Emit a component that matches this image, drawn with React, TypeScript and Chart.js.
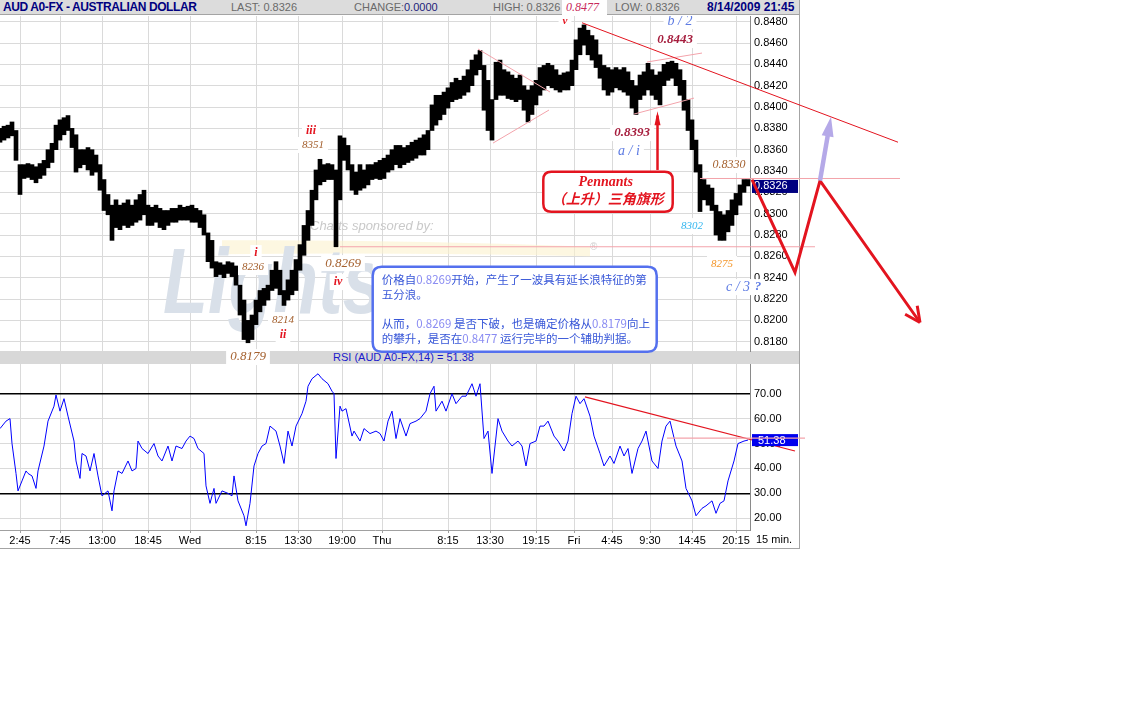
import React, { useEffect, useRef } from "react";
import { Chart, registerables } from "chart.js";

Chart.register(...registerables);

// x unit: 15-minute bar index (0 = Tue 00:15). Price samples every 2 bars (30 min).
const xTickBars = [10, 30, 51, 74, 95, 128, 149, 171, 191, 224, 245, 268, 287, 306, 325, 346, 368];
const xTickLabels = ["2:45", "7:45", "13:00", "18:45", "Wed", "8:15", "13:30", "19:00", "Thu", "8:15", "13:30", "19:15", "Fri", "4:45", "9:30", "14:45", "20:15"];

const priceTicks = [0.818, 0.82, 0.822, 0.824, 0.826, 0.828, 0.83, 0.832, 0.834, 0.836, 0.838, 0.84, 0.842, 0.844, 0.846, 0.848];

const priceHigh = [
  0.8380, 0.8382, 0.8383, 0.8386, 0.8378, 0.8346, 0.8346, 0.8347, 0.8346, 0.8344,
  0.8347, 0.8350, 0.8360, 0.8366, 0.8383, 0.8388, 0.8390, 0.8392, 0.8380, 0.8374,
  0.8360, 0.8360, 0.8362, 0.8360, 0.8355, 0.8346, 0.8332, 0.8318, 0.8308, 0.8313,
  0.8308, 0.8310, 0.8313, 0.8308, 0.8313, 0.8318, 0.8322, 0.8308, 0.8306, 0.8308,
  0.8305, 0.8303, 0.8303, 0.8305, 0.8305, 0.8308, 0.8306, 0.8307, 0.8308, 0.8305,
  0.8303, 0.8299, 0.8282, 0.8275, 0.8255, 0.8254, 0.8252, 0.8255, 0.8254, 0.8251,
  0.8233, 0.8219, 0.8200, 0.8205, 0.8219, 0.8228, 0.8230, 0.8233, 0.8247, 0.8255,
  0.8247, 0.8228, 0.8238, 0.8247, 0.8257, 0.8271, 0.8289, 0.8303, 0.8322, 0.8341,
  0.8351, 0.8346, 0.8347, 0.8346, 0.8341, 0.8373, 0.8371, 0.8364, 0.8346, 0.8339,
  0.8346, 0.8341, 0.8346, 0.8346, 0.8348, 0.8350, 0.8352, 0.8355, 0.8360, 0.8364,
  0.8364, 0.8362, 0.8364, 0.8367, 0.8369, 0.8371, 0.8374, 0.8378, 0.8402, 0.8411,
  0.8411, 0.8414, 0.8418, 0.8423, 0.8427, 0.8425, 0.8429, 0.8435, 0.8444, 0.8449,
  0.8453, 0.8439, 0.8425, 0.8407, 0.8442, 0.8444, 0.8435, 0.8433, 0.8430, 0.8427,
  0.8430, 0.8420, 0.8416, 0.8420, 0.8425, 0.8437, 0.8439, 0.8441, 0.8439, 0.8435,
  0.8430, 0.8432, 0.8433, 0.8444, 0.8463, 0.8474, 0.8477, 0.8472, 0.8467, 0.8463,
  0.8449, 0.8439, 0.8437, 0.8435, 0.8437, 0.8435, 0.8437, 0.8433, 0.8425, 0.8420,
  0.8430, 0.8433, 0.8441, 0.8435, 0.8430, 0.8433, 0.8440, 0.8442, 0.8443, 0.8441,
  0.8435, 0.8425, 0.8407, 0.8388, 0.8369, 0.8346, 0.8332, 0.8327, 0.8324, 0.8308,
  0.8302, 0.8299, 0.8303, 0.8313, 0.8319, 0.8327, 0.8332, 0.8332,
];

const priceLow = [
  0.8367, 0.8369, 0.8371, 0.8373, 0.8350, 0.8318, 0.8333, 0.8334, 0.8332, 0.8329,
  0.8333, 0.8336, 0.8343, 0.8348, 0.8360, 0.8369, 0.8374, 0.8378, 0.8362, 0.8339,
  0.8343, 0.8346, 0.8341, 0.8336, 0.8339, 0.8322, 0.8303, 0.8299, 0.8275, 0.8287,
  0.8285, 0.8289, 0.8287, 0.8289, 0.8292, 0.8294, 0.8299, 0.8289, 0.8289, 0.8292,
  0.8287, 0.8285, 0.8289, 0.8292, 0.8292, 0.8294, 0.8294, 0.8294, 0.8292, 0.8292,
  0.8287, 0.8280, 0.8255, 0.8249, 0.8241, 0.8243, 0.8240, 0.8244, 0.8241, 0.8233,
  0.8205, 0.8182, 0.8179, 0.8182, 0.8196, 0.8208, 0.8214, 0.8219, 0.8228, 0.8230,
  0.8224, 0.8214, 0.8219, 0.8224, 0.8228, 0.8247, 0.8261, 0.8275, 0.8289, 0.8313,
  0.8327, 0.8330, 0.8332, 0.8332, 0.8269, 0.8313, 0.8350, 0.8341, 0.8322, 0.8318,
  0.8322, 0.8324, 0.8327, 0.8332, 0.8333, 0.8332, 0.8333, 0.8339, 0.8341, 0.8346,
  0.8343, 0.8346, 0.8348, 0.8350, 0.8352, 0.8355, 0.8355, 0.8360, 0.8378, 0.8383,
  0.8388, 0.8393, 0.8399, 0.8405, 0.8407, 0.8408, 0.8411, 0.8414, 0.8420, 0.8430,
  0.8435, 0.8397, 0.8378, 0.8369, 0.8407, 0.8411, 0.8411, 0.8408, 0.8407, 0.8405,
  0.8407, 0.8397, 0.8386, 0.8393, 0.8402, 0.8411, 0.8416, 0.8420, 0.8418, 0.8416,
  0.8414, 0.8416, 0.8416, 0.8420, 0.8435, 0.8449, 0.8458, 0.8449, 0.8444, 0.8437,
  0.8427, 0.8416, 0.8411, 0.8414, 0.8418, 0.8416, 0.8414, 0.8411, 0.8399, 0.8393,
  0.8407, 0.8411, 0.8416, 0.8411, 0.8407, 0.8402, 0.8420, 0.8425, 0.8427, 0.8420,
  0.8411, 0.8397, 0.8378, 0.8360, 0.8339, 0.8302, 0.8313, 0.8308, 0.8303, 0.8280,
  0.8275, 0.8275, 0.8283, 0.8289, 0.8299, 0.8308, 0.8320, 0.8326,
];

const lastPrice = 0.8326;

const rsiTicks = [20, 30, 40, 50, 60, 70];
const rsiBars = [
  0, 3, 5, 6, 8, 9, 11, 13, 14, 16,
  18, 19, 22, 24, 27, 28, 30, 32, 34, 37,
  38, 40, 41, 43, 45, 47, 49, 51, 54, 56,
  57, 59, 61, 64, 66, 68, 69, 71, 74, 77,
  79, 81, 84, 86, 88, 91, 93, 95, 97, 99,
  102, 103, 105, 107, 108, 111, 114, 116, 117, 119,
  122, 123, 125, 127, 129, 131, 133, 135, 138, 140,
  142, 144, 146, 148, 151, 153, 154, 156, 159, 161,
  164, 166, 167, 168, 170, 171, 173, 176, 177, 180,
  182, 185, 188, 190, 192, 194, 196, 198, 200, 203,
  205, 208, 210, 213, 215, 217, 218, 221, 223, 226,
  228, 231, 233, 236, 238, 240, 242, 244, 246, 249,
  251, 254, 256, 259, 261, 263, 265, 268, 270, 272,
  274, 277, 279, 282, 284, 286, 288, 290, 292, 295,
  297, 300, 302, 305, 307, 310, 312, 314, 316, 319,
  321, 323, 326, 329, 331, 333, 335, 338, 341, 343,
  346, 348, 351, 353, 356, 358, 360, 362, 364, 367,
  369, 372, 374,
];
const rsiValues = [
  56, 59, 60, 50, 38, 31, 35, 39, 38, 37,
  32, 39, 49, 59, 65, 69.5, 63, 68, 61, 51,
  43, 36, 46, 45, 39, 46, 37, 29, 31, 23,
  31, 39, 38, 43, 39, 40, 51, 48, 46, 50,
  45, 43, 49, 43, 49, 48, 51, 53, 52, 48,
  46, 33, 26, 32, 26, 31, 30, 29, 37, 27,
  21, 17, 26, 41, 46, 49, 50, 57, 55, 49,
  42, 55, 49, 57, 62, 67, 73, 76, 78, 76,
  74, 71, 70, 44, 65, 63, 64, 53, 55, 51,
  56, 54, 55, 54, 51, 59, 63, 52, 60, 53,
  58, 59, 60, 63, 70, 73, 63, 67, 63, 70,
  66, 69, 69, 74, 69, 74, 52, 55, 38, 60,
  55, 51, 49, 51, 49, 41, 50, 51, 57, 57,
  59, 53, 51, 47, 51, 62, 69, 66, 68, 61,
  53, 46, 41, 45, 42, 49, 45, 48, 38, 48,
  51, 55, 43, 40, 51, 57, 59, 49, 43, 32,
  27, 21, 24, 25, 27, 22, 26, 27, 35, 43,
  50, 51, 51.4,
];
const lastRsi = 51.38;

const SANS = "'Liberation Sans', Arial, sans-serif";
const SERIF = "'Liberation Serif', 'Times New Roman', serif";
const CJK = "'Noto Sans CJK SC', 'Noto Sans', sans-serif";

const GRID = "#dadada";

function rightAxisFit(scale: any) {
  scale.width = 50;
  scale.paddingTop = 0;
  scale.paddingBottom = 0;
}

function arrowHeadFilled(ctx: any, x1: number, y1: number, x2: number, y2: number, len: number, half: number, color: string) {
  const a = Math.atan2(y2 - y1, x2 - x1);
  const bx = x2 - len * Math.cos(a);
  const by = y2 - len * Math.sin(a);
  ctx.beginPath();
  ctx.moveTo(x2, y2);
  ctx.lineTo(bx + half * Math.sin(a), by - half * Math.cos(a));
  ctx.lineTo(bx - half * Math.sin(a), by + half * Math.cos(a));
  ctx.closePath();
  ctx.fillStyle = color;
  ctx.fill();
}

function roundRect(ctx: any, x: number, y: number, w: number, h: number, r: number) {
  ctx.beginPath();
  ctx.moveTo(x + r, y);
  ctx.lineTo(x + w - r, y);
  ctx.quadraticCurveTo(x + w, y, x + w, y + r);
  ctx.lineTo(x + w, y + h - r);
  ctx.quadraticCurveTo(x + w, y + h, x + w - r, y + h);
  ctx.lineTo(x + r, y + h);
  ctx.quadraticCurveTo(x, y + h, x, y + h - r);
  ctx.lineTo(x, y + r);
  ctx.quadraticCurveTo(x, y, x + r, y);
  ctx.closePath();
}

const RED = "#e3141f";
const PINK = "#f3a3ab";
const BROWN = "#a4602e";
const BLUE_L = "#5d7be3";
const DARKRED = "#a61e3e";

const waveLabels = [
  { t: "v", b: 282.5, p: 0.84806, c: RED, f: `italic bold 11px ${SERIF}` },
  { t: "b / 2", b: 340, p: 0.84806, c: BLUE_L, f: `italic 14px ${SERIF}` },
  { t: "0.8443", b: 337.5, p: 0.84628, c: DARKRED, f: `italic bold 13px ${SERIF}` },
  { t: "0.8393", b: 316, p: 0.83756, c: DARKRED, f: `italic bold 13px ${SERIF}` },
  { t: "a / i", b: 314.5, p: 0.83587, c: BLUE_L, f: `italic 14px ${SERIF}` },
  { t: "0.8330", b: 364.5, p: 0.83456, c: BROWN, f: `italic 12px ${SERIF}` },
  { t: "8302", b: 346, p: 0.82884, c: "#33b6ef", f: `italic 11px ${SERIF}` },
  { t: "8275", b: 361, p: 0.82528, c: "#f4962a", f: `italic 11px ${SERIF}` },
  { t: "c / 3", b: 369, p: 0.82312, c: BLUE_L, f: `italic 14px ${SERIF}` },
  { t: "?", b: 379, p: 0.82312, c: BLUE_L, f: `italic bold 13px ${SERIF}` },
  { t: "i", b: 128, p: 0.82631, c: RED, f: `italic bold 12px ${SERIF}` },
  { t: "8236", b: 126.5, p: 0.825, c: BROWN, f: `italic 11px ${SERIF}` },
  { t: "8214", b: 141.5, p: 0.82003, c: BROWN, f: `italic 11px ${SERIF}` },
  { t: "ii", b: 141.5, p: 0.81862, c: RED, f: `italic bold 12px ${SERIF}` },
  { t: "iii", b: 155.5, p: 0.83775, c: RED, f: `italic bold 12px ${SERIF}` },
  { t: "8351", b: 156.5, p: 0.83644, c: BROWN, f: `italic 11px ${SERIF}` },
  { t: "0.8269", b: 171.5, p: 0.82537, c: BROWN, f: `italic 13px ${SERIF}` },
  { t: "iv", b: 169, p: 0.82359, c: RED, f: `italic bold 12px ${SERIF}` },
  { t: "0.8179", b: 124, p: 0.81656, c: BROWN, f: `italic 13px ${SERIF}` },
];

const TXT = "#3857d8";
const NUM = "#8a8cf2";
const noteLines = [
  { p: 0.82378, segs: [["价格自", TXT], ["0.8269", NUM], ["开始，产生了一波具有延长浪特征的第", TXT]] },
  { p: 0.82241, segs: [["五分浪。", TXT]] },
  { p: 0.81969, segs: [["从而，", TXT], ["0.8269", NUM], [" 是否下破，也是确定价格从", TXT], ["0.8179", NUM], ["向上", TXT]] },
  { p: 0.81828, segs: [["的攀升，是否在", TXT], ["0.8477", NUM], [" 运行完毕的一个辅助判据。", TXT]] },
];

const pricePlugin = {
  id: "priceAnno",
  beforeDatasetsDraw(chart: any) {
    const { ctx } = chart;
    const xs = chart.scales.x;
    const ys = chart.scales.y;
    const X = (b: number) => xs.getPixelForValue(b);
    const Y = (p: number) => ys.getPixelForValue(p);
    ctx.save();
    // yellow swoosh of the sponsor logo
    ctx.fillStyle = "rgba(252, 242, 205, 0.6)";
    ctx.beginPath();
    ctx.moveTo(X(111), Y(0.8275));
    ctx.quadraticCurveTo(X(200), Y(0.8276), X(295), Y(0.8269));
    ctx.lineTo(X(295), Y(0.8260));
    ctx.quadraticCurveTo(X(200), Y(0.8264), X(111), Y(0.8262));
    ctx.closePath();
    ctx.fill();
    // sponsor logo text (its right part lies under the note box)
    ctx.save();
    ctx.beginPath();
    ctx.rect(0, 0, X(186.35), chart.height);
    ctx.clip();
    ctx.fillStyle = "#d9e0e9";
    ctx.font = `italic bold 92px ${SANS}`;
    ctx.textAlign = "left";
    ctx.textBaseline = "alphabetic";
    ctx.translate(X(81.5), Y(0.82069));
    ctx.scale(0.8, 1);
    ctx.fillText("Lightspeed", 0, 0);
    ctx.restore();
    ctx.fillStyle = "#d0d0d0";
    ctx.font = `10px ${SANS}`;
    ctx.fillText("®", X(295), Y(0.82659));
    ctx.fillStyle = "#c9c9c9";
    ctx.font = `italic 13px ${SANS}`;
    ctx.textAlign = "left";
    ctx.textBaseline = "middle";
    ctx.fillText("Charts sponsored by:", X(155), Y(0.82884));
    ctx.restore();
  },
  afterDatasetsDraw(chart: any) {
    const { ctx, chartArea } = chart;
    const xs = chart.scales.x;
    const ys = chart.scales.y;
    const X = (b: number) => xs.getPixelForValue(b);
    const Y = (p: number) => ys.getPixelForValue(p);
    const seg = (b1: number, p1: number, b2: number, p2: number, color: string, w: number) => {
      ctx.beginPath();
      ctx.moveTo(X(b1), Y(p1));
      ctx.lineTo(X(b2), Y(p2));
      ctx.strokeStyle = color;
      ctx.lineWidth = w;
      ctx.stroke();
    };
    ctx.save();
    // horizontal reference levels
    seg(170, 0.8269, 407.5, 0.8269, PINK, 1);
    // pennants
    seg(239, 0.84544, 275, 0.84141, PINK, 1);
    seg(246.5, 0.83662, 274.5, 0.83972, PINK, 1);
    seg(323.5, 0.84422, 351, 0.84506, PINK, 1);
    seg(317, 0.83934, 347, 0.84084, PINK, 1);
    // falling trend line from the 0.8477 top
    seg(291, 0.8479, 449, 0.8367, RED, 1);

    // wave labels on white boxes
    ctx.textAlign = "center";
    ctx.textBaseline = "middle";
    for (const l of waveLabels) {
      ctx.font = l.f;
      const x = X(l.b);
      const y = Y(l.p);
      const w = ctx.measureText(l.t).width;
      ctx.fillStyle = "#ffffff";
      ctx.fillRect(x - w / 2 - 4, y - 8, w + 8, 16);
      ctx.fillStyle = l.c;
      ctx.fillText(l.t, x, y);
    }

    // note box
    {
      const x1 = X(186.35), x2 = X(328.35), y1 = Y(0.82503), y2 = Y(0.81706);
      roundRect(ctx, x1, y1, x2 - x1, y2 - y1, 9);
      ctx.fillStyle = "#ffffff";
      ctx.fill();
      ctx.strokeStyle = "#5470ee";
      ctx.lineWidth = 2.5;
      ctx.stroke();
      ctx.font = `11.5px ${CJK}`;
      ctx.textAlign = "left";
      ctx.textBaseline = "middle";
      for (const line of noteLines) {
        let x = X(190.85);
        const y = Y(line.p);
        for (const [t, c] of line.segs) {
          ctx.fillStyle = c;
          ctx.fillText(t, x, y);
          x += ctx.measureText(t).width;
        }
      }
    }

    // pennant box + arrow
    {
      const x1 = X(271.65), x2 = X(336.35), y1 = Y(0.83393), y2 = Y(0.83018);
      roundRect(ctx, x1, y1, x2 - x1, y2 - y1, 8);
      ctx.fillStyle = "#ffffff";
      ctx.fill();
      ctx.strokeStyle = RED;
      ctx.lineWidth = 2.5;
      ctx.stroke();
      ctx.fillStyle = RED;
      ctx.textAlign = "center";
      ctx.textBaseline = "middle";
      ctx.font = `italic bold 14px ${SERIF}`;
      ctx.fillText("Pennants", X(302.85), Y(0.8329));
      ctx.font = `italic bold 14px ${CJK}`;
      ctx.fillText("（上升）三角旗形", X(303.85), Y(0.83144));
      const ax = X(328.75);
      ctx.beginPath();
      ctx.moveTo(ax, Y(0.8341));
      ctx.lineTo(ax, Y(0.8392));
      ctx.strokeStyle = RED;
      ctx.lineWidth = 2.5;
      ctx.stroke();
      arrowHeadFilled(ctx, ax, Y(0.8341), ax, Y(0.8396), 14, 3, RED);
    }

    // last price box
    {
      const y = Y(lastPrice);
      ctx.fillStyle = "#000080";
      ctx.fillRect(chartArea.right + 2, y - 6, 46, 13);
      ctx.fillStyle = "#ffffff";
      ctx.font = `11px ${SANS}`;
      ctx.textAlign = "left";
      ctx.textBaseline = "middle";
      ctx.fillText(lastPrice.toFixed(4), chartArea.right + 4, y + 0.5);
    }
    seg(350, 0.8333, 450, 0.8333, PINK, 1);

    // projected zig-zag
    {
      const pts = [[376, 0.8332], [397.5, 0.8245], [410, 0.8331], [460, 0.8198]];
      ctx.beginPath();
      pts.forEach(([b, p], i) => (i ? ctx.lineTo(X(b), Y(p)) : ctx.moveTo(X(b), Y(p))));
      ctx.strokeStyle = RED;
      ctx.lineWidth = 3;
      ctx.lineJoin = "miter";
      ctx.stroke();
      const x1 = X(410), y1 = Y(0.8331), x2 = X(460), y2 = Y(0.8198);
      const a = Math.atan2(y2 - y1, x2 - x1);
      ctx.beginPath();
      for (const s of [-0.45, 0.45]) {
        ctx.moveTo(x2, y2);
        ctx.lineTo(x2 - 17 * Math.cos(a + s), y2 - 17 * Math.sin(a + s));
      }
      ctx.stroke();
    }
    // alternative upward arrow
    {
      const x1 = X(410), y1 = Y(0.8331), x2 = X(415.5), y2 = Y(0.8391);
      ctx.beginPath();
      ctx.moveTo(x1, y1);
      ctx.lineTo(x1 + (x2 - x1) * 0.75, y1 + (y2 - y1) * 0.75);
      ctx.strokeStyle = "#b5a9e8";
      ctx.lineWidth = 4.5;
      ctx.stroke();
      arrowHeadFilled(ctx, x1, y1, x2, y2, 20, 6, "#b5a9e8");
    }
    ctx.restore();
  },
};

const rsiPlugin = {
  id: "rsiAnno",
  afterDatasetsDraw(chart: any) {
    const { ctx, chartArea } = chart;
    const xs = chart.scales.x;
    const ys = chart.scales.y;
    const X = (b: number) => xs.getPixelForValue(b);
    const Y = (v: number) => ys.getPixelForValue(v);
    ctx.save();
    ctx.beginPath();
    ctx.moveTo(X(292.5), Y(68.7));
    ctx.lineTo(X(397.5), Y(47.0));
    ctx.strokeStyle = RED;
    ctx.lineWidth = 1.2;
    ctx.stroke();
    const y = Y(lastRsi);
    ctx.fillStyle = "#0000ee";
    ctx.fillRect(chartArea.right + 2, y - 6, 46, 12);
    ctx.fillStyle = "#ffffff";
    ctx.font = `11px ${SANS}`;
    ctx.textAlign = "left";
    ctx.textBaseline = "middle";
    ctx.fillText(lastRsi.toFixed(2), chartArea.right + 8, y + 0.5);
    ctx.beginPath();
    ctx.moveTo(X(333.5), Y(52.2));
    ctx.lineTo(X(402.5), Y(52.2));
    ctx.strokeStyle = PINK;
    ctx.lineWidth = 1.2;
    ctx.stroke();
    ctx.fillStyle = "#000000";
    ctx.font = `11px ${SANS}`;
    ctx.textAlign = "left";
    ctx.fillText("15 min.", chartArea.right + 6, chartArea.bottom + 9.5);
    ctx.restore();
  },
};

export default function App() {
  const priceRef = useRef<HTMLCanvasElement>(null);
  const rsiRef = useRef<HTMLCanvasElement>(null);

  useEffect(() => {
    const priceData = priceHigh.map((h, k) => ({ x: k * 2, y: [priceLow[k], h] }));
    const price = new Chart(priceRef.current as HTMLCanvasElement, {
      type: "bar",
      data: {
        datasets: [
          {
            data: priceData as any,
            backgroundColor: "#000000",
            borderWidth: 0,
            barThickness: 4,
          },
        ],
      },
      options: {
        animation: false,
        responsive: false,
        devicePixelRatio: 1,
        events: [],
        layout: { padding: { left: 0, top: 0, right: 331, bottom: 25 } },
        plugins: { legend: { display: false }, tooltip: { enabled: false } },
        scales: {
          x: {
            type: "linear",
            min: 0,
            max: 375,
            offset: false,
            grid: { color: GRID, drawTicks: false, offset: false },
            border: { display: false },
            ticks: { display: false },
            afterBuildTicks: (s: any) => {
              s.ticks = xTickBars.map((v) => ({ value: v }));
            },
            afterFit: (s: any) => {
              s.height = 0;
              s.paddingLeft = 0;
              s.paddingRight = 0;
            },
          },
          y: {
            position: "right",
            min: 0.817128,
            max: 0.848534,
            grid: { color: GRID, drawTicks: false },
            border: { display: true, color: "#8a8a8a" },
            ticks: {
              padding: 4,
              color: "#000",
              font: { family: SANS, size: 11 },
              callback: (v: any) => Number(v).toFixed(4),
            },
            afterBuildTicks: (s: any) => {
              s.ticks = priceTicks.map((v) => ({ value: v }));
            },
            afterFit: rightAxisFit,
          },
        },
      } as any,
      plugins: [pricePlugin],
    });

    const rsi = new Chart(rsiRef.current as HTMLCanvasElement, {
      type: "line",
      data: {
        datasets: [
          {
            data: rsiBars.map((b, i) => ({ x: b, y: rsiValues[i] })),
            borderColor: "#0000ff",
            borderWidth: 1,
            pointRadius: 0,
            fill: false,
            tension: 0,
          },
        ],
      },
      options: {
        animation: false,
        responsive: false,
        devicePixelRatio: 1,
        events: [],
        layout: { padding: { left: 0, top: 0, right: 331, bottom: 0 } },
        plugins: { legend: { display: false }, tooltip: { enabled: false } },
        scales: {
          x: {
            type: "linear",
            min: 0,
            max: 375,
            offset: false,
            grid: { color: GRID, drawTicks: true, tickLength: 3, tickColor: "#a0a0a0" },
            border: { display: true, color: "#a0a0a0" },
            ticks: {
              autoSkip: false,
              maxRotation: 0,
              padding: 1,
              color: "#000",
              font: { family: SANS, size: 11 },
              callback: (_v: any, i: number) => xTickLabels[i],
            },
            afterBuildTicks: (s: any) => {
              s.ticks = xTickBars.map((v) => ({ value: v }));
            },
            afterFit: (s: any) => {
              s.height = 18;
              s.paddingLeft = 0;
              s.paddingRight = 0;
            },
          },
          y: {
            position: "right",
            min: 15.305,
            max: 81.918,
            grid: {
              drawTicks: false,
              color: (c: any) => (c.tick && (c.tick.value === 30 || c.tick.value === 70) ? "#000000" : GRID),
              lineWidth: (c: any) => (c.tick && (c.tick.value === 30 || c.tick.value === 70) ? 1.5 : 1),
            },
            border: { display: true, color: "#8a8a8a" },
            ticks: {
              padding: 4,
              color: "#000",
              font: { family: SANS, size: 11 },
              callback: (v: any) => Number(v).toFixed(2),
            },
            afterBuildTicks: (s: any) => {
              s.ticks = rsiTicks.map((v) => ({ value: v }));
            },
            afterFit: rightAxisFit,
          },
        },
      } as any,
      plugins: [rsiPlugin],
    });

    return () => {
      price.destroy();
      rsi.destroy();
    };
  }, []);

  const hdr: React.CSSProperties = {
    position: "absolute",
    top: 0,
    lineHeight: "14px",
    fontSize: 11,
    color: "#6a6a6a",
    whiteSpace: "nowrap",
  };

  return (
    <div style={{ position: "absolute", left: 0, top: 0, width: 1131, height: 720, background: "#ffffff", overflow: "hidden", fontFamily: SANS }}>
      <div style={{ position: "absolute", left: 0, top: 0, width: 800, height: 14, background: "#dcdcdc", borderBottom: "1px solid #a4a4a4" }}>
        <span style={{ ...hdr, left: 3, fontSize: 12, fontWeight: "bold", color: "#000080", letterSpacing: "-0.4px" }}>AUD A0-FX - AUSTRALIAN DOLLAR</span>
        <span style={{ ...hdr, left: 231 }}>LAST: 0.8326</span>
        <span style={{ ...hdr, left: 354 }}>CHANGE:</span>
        <span style={{ ...hdr, left: 404, color: "#1c1c7a" }}>0.0000</span>
        <span style={{ ...hdr, left: 493 }}>HIGH: 0.8326</span>
        <span style={{ ...hdr, left: 562, width: 45, height: 15, background: "#ffffff" }}></span>
        <span style={{ ...hdr, left: 566, fontSize: 12, fontStyle: "italic", color: "#c8285a", fontFamily: SERIF }}>0.8477</span>
        <span style={{ ...hdr, left: 615 }}>LOW: 0.8326</span>
        <span style={{ ...hdr, left: 707, fontSize: 12, fontWeight: "bold", color: "#000080" }}>8/14/2009 21:45</span>
      </div>
      <div style={{ position: "absolute", left: 0, top: 351, width: 800, height: 13, background: "#d8d8d8" }}>
        <span style={{ position: "absolute", left: 333, top: 0, lineHeight: "13px", fontSize: 11, color: "#1a1acc", whiteSpace: "nowrap" }}>RSI (AUD A0-FX,14) = 51.38</span>
      </div>
      <div style={{ position: "absolute", left: 799, top: 0, width: 1, height: 549, background: "#a4a4a4" }} />
      <div style={{ position: "absolute", left: 0, top: 548, width: 800, height: 1, background: "#a4a4a4" }} />
      <canvas ref={rsiRef} width={1131} height={184} style={{ position: "absolute", left: 0, top: 364 }} />
      <canvas ref={priceRef} width={1131} height={360} style={{ position: "absolute", left: 0, top: 16 }} />
    </div>
  );
}
